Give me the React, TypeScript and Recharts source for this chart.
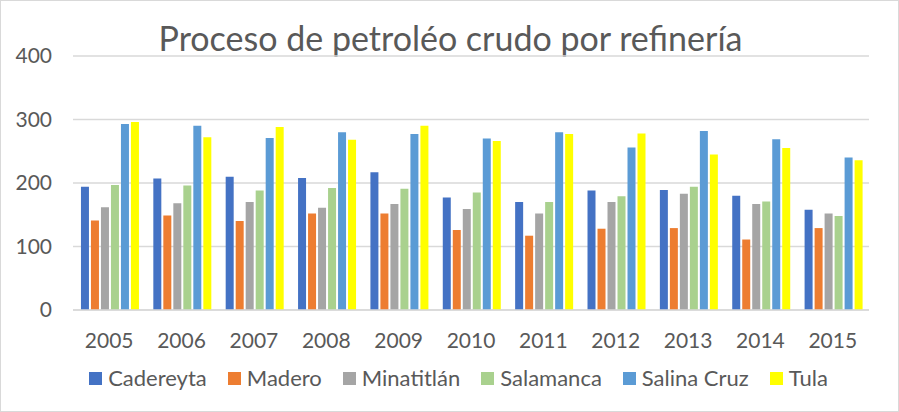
import { BarChart, Bar, XAxis, YAxis, CartesianGrid } from "recharts";

const years = ["2005", "2006", "2007", "2008", "2009", "2010", "2011", "2012", "2013", "2014", "2015"];

const cadereyta = [194, 207, 210, 208, 217, 177, 170, 188, 189, 180, 158];
const madero = [141, 149, 140, 152, 152, 126, 117, 128, 129, 111, 129];
const minatitlan = [162, 168, 170, 161, 167, 159, 152, 170, 183, 167, 152];
const salamanca = [197, 196, 188, 192, 191, 185, 170, 179, 194, 171, 148];
const salinaCruz = [293, 290, 271, 280, 277, 270, 280, 256, 282, 269, 240];
const tula = [296, 272, 288, 268, 290, 266, 277, 278, 245, 255, 236];

const yTicks = [0, 100, 200, 300, 400];

const series = [
  { key: "Cadereyta", values: cadereyta, color: "#4472C4" },
  { key: "Madero", values: madero, color: "#ED7D31" },
  { key: "Minatitlán", values: minatitlan, color: "#A5A5A5" },
  { key: "Salamanca", values: salamanca, color: "#A9D18E" },
  { key: "Salina Cruz", values: salinaCruz, color: "#5B9BD5" },
  { key: "Tula", values: tula, color: "#FFFF00" },
];

const data = years.map((y, i) => {
  const row: Record<string, string | number> = { year: y };
  series.forEach((s) => (row[s.key] = s.values[i]));
  return row;
});

const FONT = "Lato, sans-serif";
const TEXT = "#595959";

export default function App() {
  return (
    <div style={{ position: "absolute", left: 0, top: 0, width: 897, height: 410, border: "1px solid #d9d9d9", background: "#fff" }}>
      <div
        style={{
          position: "absolute",
          top: 17,
          left: 0,
          width: 899,
          textAlign: "center",
          fontFamily: FONT,
          fontSize: 34,
          color: TEXT,
          lineHeight: "40px",
        }}
      >
        Proceso de petroléo crudo por refinería
      </div>
      <BarChart
        width={897}
        height={410}
        data={data}
        margin={{ top: 55, right: 29, left: 0, bottom: 71 }}
        barCategoryGap="11%"
        barGap={2}
        style={{ position: "absolute", top: 0, left: 0 }}
      >
        <CartesianGrid vertical={false} stroke="#d9d9d9" strokeWidth={1.5} />
        <XAxis
          dataKey="year"
          tickLine={false}
          axisLine={{ stroke: "#d9d9d9", strokeWidth: 1.5 }}
          tickMargin={17}
          tick={{ fontSize: 21, fill: TEXT, fontFamily: FONT }}
          interval={0}
        />
        <YAxis
          domain={[0, 400]}
          ticks={yTicks}
          width={72}
          tickLine={false}
          axisLine={false}
          tickMargin={15}
          tick={{ fontSize: 21, fill: TEXT, fontFamily: FONT }}
        />
        {series.map((s) => (
          <Bar key={s.key} dataKey={s.key} fill={s.color} isAnimationActive={false} />
        ))}
      </BarChart>
      <div
        style={{
          position: "absolute",
          top: 364,
          left: 9,
          width: 897,
          display: "flex",
          justifyContent: "center",
          gap: 21,
          fontFamily: FONT,
          fontSize: 22,
          color: TEXT,
          lineHeight: "26px",
        }}
      >
        {series.map((s) => (
          <div key={s.key} style={{ display: "flex", alignItems: "center" }}>
            <span style={{ display: "inline-block", width: 13, height: 13, background: s.color, marginRight: 6 }} />
            {s.key}
          </div>
        ))}
      </div>
    </div>
  );
}
